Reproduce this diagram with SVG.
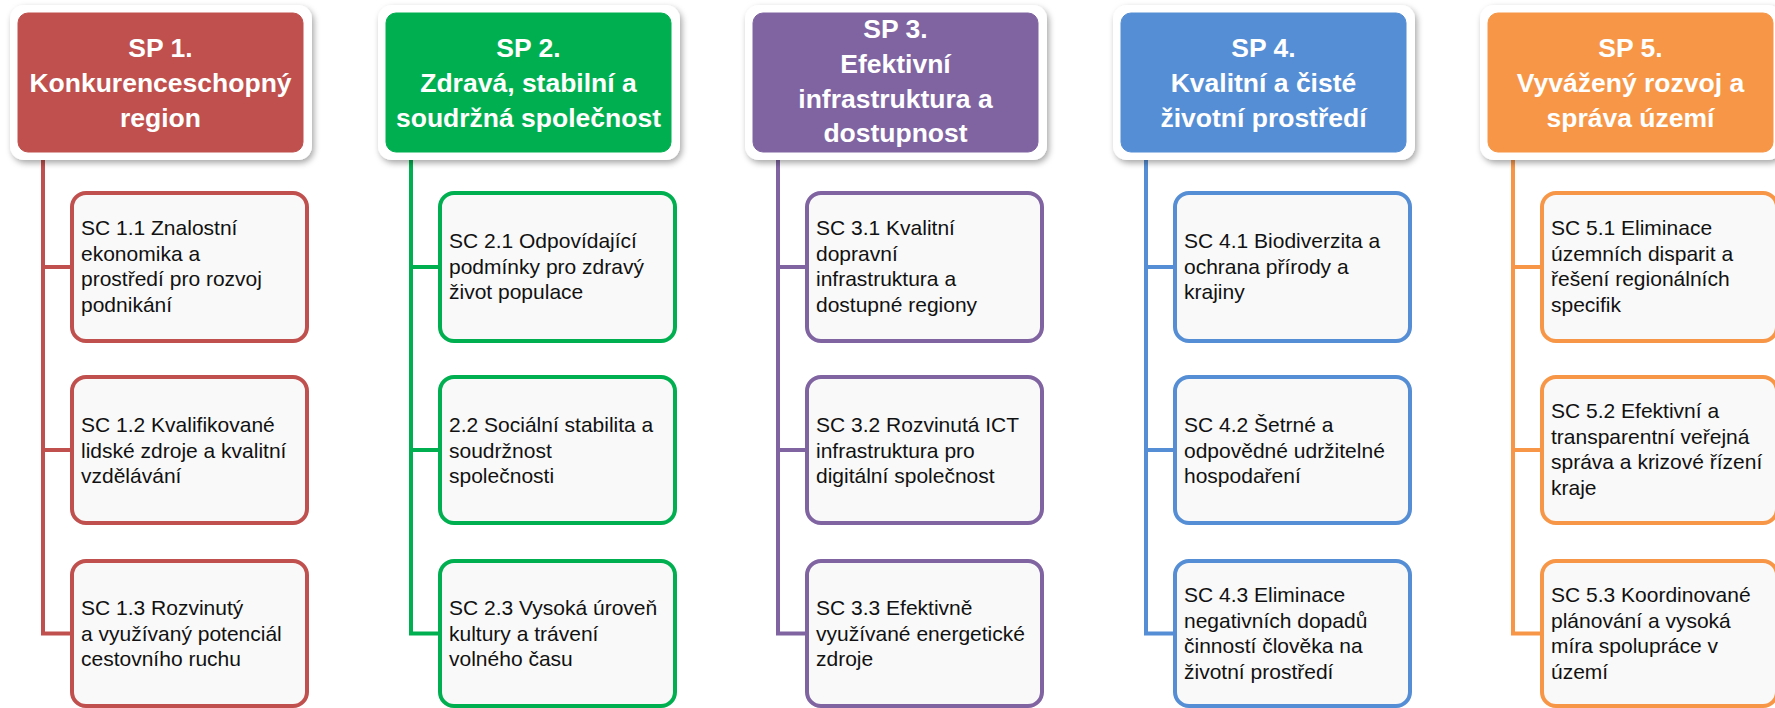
<svg xmlns="http://www.w3.org/2000/svg" width="1775" height="708" viewBox="0 0 1775 708">
<defs>
<filter id="sh" x="-10%" y="-10%" width="125%" height="130%">
<feDropShadow dx="2" dy="3" stdDeviation="3" flood-color="#000" flood-opacity="0.35"/>
</filter>
</defs>
<style>
.hb{fill:#fff;filter:url(#sh)}
.hd{font-family:"Liberation Sans",Arial,sans-serif;font-weight:bold;font-size:26.5px;fill:#fff;text-anchor:middle}
.bx{fill:#f9f9f9;stroke-width:4}
.tx{font-family:"Liberation Sans",Arial,sans-serif;font-size:21px;fill:#111}
.cn{fill:none;stroke-width:4}
.c1{fill:#C0504D;stroke:#C0504D}
.c2{fill:#00B050;stroke:#00B050}
.c3{fill:#8064A2;stroke:#8064A2}
.c4{fill:#558ED5;stroke:#558ED5}
.c5{fill:#F79646;stroke:#F79646}
.s1{stroke:#C0504D}.s2{stroke:#00B050}.s3{stroke:#8064A2}.s4{stroke:#558ED5}.s5{stroke:#F79646}
</style>
<rect width="1775" height="708" fill="#fff"/>

<g id="connectors" class="cn">
<path class="s1" transform="translate(18,0)" d="M25,152 V633.5 H54 M25,267 H54 M25,450 H54"/>
<path class="s2" transform="translate(386,0)" d="M25,152 V633.5 H54 M25,267 H54 M25,450 H54"/>
<path class="s3" transform="translate(753,0)" d="M25,152 V633.5 H54 M25,267 H54 M25,450 H54"/>
<path class="s4" transform="translate(1121,0)" d="M25,152 V633.5 H54 M25,267 H54 M25,450 H54"/>
<path class="s5" transform="translate(1488,0)" d="M25,152 V633.5 H54 M25,267 H54 M25,450 H54"/>
</g>

<!-- Column 1 -->
<g id="sp1" transform="translate(18,0)">
<rect class="hb" x="-8" y="5" width="302" height="155" rx="14"/>
<rect class="c1" x="0" y="13" width="285" height="139" rx="10"/>
<text class="hd"><tspan x="142.5" y="57">SP 1.</tspan><tspan x="142.5" y="92">Konkurenceschopný</tspan><tspan x="142.5" y="127">region</tspan></text>
</g>
<g id="sc11" transform="translate(18,0)">
<rect class="bx s1" x="54" y="193" width="235" height="148" rx="14"/>
<text class="tx"><tspan x="63" y="235">SC 1.1 Znalostní</tspan><tspan x="63" y="260.5">ekonomika a</tspan><tspan x="63" y="286">prostředí pro rozvoj</tspan><tspan x="63" y="311.5">podnikání</tspan></text>
</g>
<g id="sc12" transform="translate(18,0)">
<rect class="bx s1" x="54" y="377" width="235" height="146" rx="14"/>
<text class="tx"><tspan x="63" y="432">SC 1.2 Kvalifikované</tspan><tspan x="63" y="457.5">lidské zdroje a kvalitní</tspan><tspan x="63" y="483">vzdělávání</tspan></text>
</g>
<g id="sc13" transform="translate(18,0)">
<rect class="bx s1" x="54" y="561" width="235" height="145" rx="14"/>
<text class="tx"><tspan x="63" y="615">SC 1.3 Rozvinutý</tspan><tspan x="63" y="640.5">a využívaný potenciál</tspan><tspan x="63" y="666">cestovního ruchu</tspan></text>
</g>

<!-- Column 2 -->
<g id="sp2" transform="translate(386,0)">
<rect class="hb" x="-8" y="5" width="302" height="155" rx="14"/>
<rect class="c2" x="0" y="13" width="285" height="139" rx="10"/>
<text class="hd"><tspan x="142.5" y="57">SP 2.</tspan><tspan x="142.5" y="92">Zdravá, stabilní a</tspan><tspan x="142.5" y="127">soudržná společnost</tspan></text>
</g>
<g id="sc21" transform="translate(386,0)">
<rect class="bx s2" x="54" y="193" width="235" height="148" rx="14"/>
<text class="tx"><tspan x="63" y="248">SC 2.1 Odpovídající</tspan><tspan x="63" y="273.5">podmínky pro zdravý</tspan><tspan x="63" y="299">život populace</tspan></text>
</g>
<g id="sc22" transform="translate(386,0)">
<rect class="bx s2" x="54" y="377" width="235" height="146" rx="14"/>
<text class="tx"><tspan x="63" y="432">2.2 Sociální stabilita a</tspan><tspan x="63" y="457.5">soudržnost</tspan><tspan x="63" y="483">společnosti</tspan></text>
</g>
<g id="sc23" transform="translate(386,0)">
<rect class="bx s2" x="54" y="561" width="235" height="145" rx="14"/>
<text class="tx"><tspan x="63" y="615">SC 2.3 Vysoká úroveň</tspan><tspan x="63" y="640.5">kultury a trávení</tspan><tspan x="63" y="666">volného času</tspan></text>
</g>

<!-- Column 3 -->
<g id="sp3" transform="translate(753,0)">
<rect class="hb" x="-8" y="5" width="302" height="155" rx="14"/>
<rect class="c3" x="0" y="13" width="285" height="139" rx="10"/>
<text class="hd"><tspan x="142.5" y="38">SP 3.</tspan><tspan x="142.5" y="73">Efektivní</tspan><tspan x="142.5" y="108">infrastruktura a</tspan><tspan x="142.5" y="142">dostupnost</tspan></text>
</g>
<g id="sc31" transform="translate(753,0)">
<rect class="bx s3" x="54" y="193" width="235" height="148" rx="14"/>
<text class="tx"><tspan x="63" y="235">SC 3.1 Kvalitní</tspan><tspan x="63" y="260.5">dopravní</tspan><tspan x="63" y="286">infrastruktura a</tspan><tspan x="63" y="311.5">dostupné regiony</tspan></text>
</g>
<g id="sc32" transform="translate(753,0)">
<rect class="bx s3" x="54" y="377" width="235" height="146" rx="14"/>
<text class="tx"><tspan x="63" y="432">SC 3.2 Rozvinutá ICT</tspan><tspan x="63" y="457.5">infrastruktura pro</tspan><tspan x="63" y="483">digitální společnost</tspan></text>
</g>
<g id="sc33" transform="translate(753,0)">
<rect class="bx s3" x="54" y="561" width="235" height="145" rx="14"/>
<text class="tx"><tspan x="63" y="615">SC 3.3 Efektivně</tspan><tspan x="63" y="640.5">využívané energetické</tspan><tspan x="63" y="666">zdroje</tspan></text>
</g>

<!-- Column 4 -->
<g id="sp4" transform="translate(1121,0)">
<rect class="hb" x="-8" y="5" width="302" height="155" rx="14"/>
<rect class="c4" x="0" y="13" width="285" height="139" rx="10"/>
<text class="hd"><tspan x="142.5" y="57">SP 4.</tspan><tspan x="142.5" y="92">Kvalitní a čisté</tspan><tspan x="142.5" y="127">životní prostředí</tspan></text>
</g>
<g id="sc41" transform="translate(1121,0)">
<rect class="bx s4" x="54" y="193" width="235" height="148" rx="14"/>
<text class="tx"><tspan x="63" y="248">SC 4.1 Biodiverzita a</tspan><tspan x="63" y="273.5">ochrana přírody a</tspan><tspan x="63" y="299">krajiny</tspan></text>
</g>
<g id="sc42" transform="translate(1121,0)">
<rect class="bx s4" x="54" y="377" width="235" height="146" rx="14"/>
<text class="tx"><tspan x="63" y="432">SC 4.2 Šetrné a</tspan><tspan x="63" y="457.5">odpovědné udržitelné</tspan><tspan x="63" y="483">hospodaření</tspan></text>
</g>
<g id="sc43" transform="translate(1121,0)">
<rect class="bx s4" x="54" y="561" width="235" height="145" rx="14"/>
<text class="tx"><tspan x="63" y="602">SC 4.3 Eliminace</tspan><tspan x="63" y="627.5">negativních dopadů</tspan><tspan x="63" y="653">činností člověka na</tspan><tspan x="63" y="678.5">životní prostředí</tspan></text>
</g>

<!-- Column 5 -->
<g id="sp5" transform="translate(1488,0)">
<rect class="hb" x="-8" y="5" width="302" height="155" rx="14"/>
<rect class="c5" x="0" y="13" width="285" height="139" rx="10"/>
<text class="hd"><tspan x="142.5" y="57">SP 5.</tspan><tspan x="142.5" y="92">Vyvážený rozvoj a</tspan><tspan x="142.5" y="127">správa území</tspan></text>
</g>
<g id="sc51" transform="translate(1488,0)">
<rect class="bx s5" x="54" y="193" width="235" height="148" rx="14"/>
<text class="tx"><tspan x="63" y="235">SC 5.1 Eliminace</tspan><tspan x="63" y="260.5">územních disparit a</tspan><tspan x="63" y="286">řešení regionálních</tspan><tspan x="63" y="311.5">specifik</tspan></text>
</g>
<g id="sc52" transform="translate(1488,0)">
<rect class="bx s5" x="54" y="377" width="235" height="146" rx="14"/>
<text class="tx"><tspan x="63" y="418">SC 5.2 Efektivní a</tspan><tspan x="63" y="443.5">transparentní veřejná</tspan><tspan x="63" y="469">správa a krizové řízení</tspan><tspan x="63" y="494.5">kraje</tspan></text>
</g>
<g id="sc53" transform="translate(1488,0)">
<rect class="bx s5" x="54" y="561" width="235" height="145" rx="14"/>
<text class="tx"><tspan x="63" y="602">SC 5.3 Koordinované</tspan><tspan x="63" y="627.5">plánování a vysoká</tspan><tspan x="63" y="653">míra spolupráce v</tspan><tspan x="63" y="678.5">území</tspan></text>
</g>
</svg>
